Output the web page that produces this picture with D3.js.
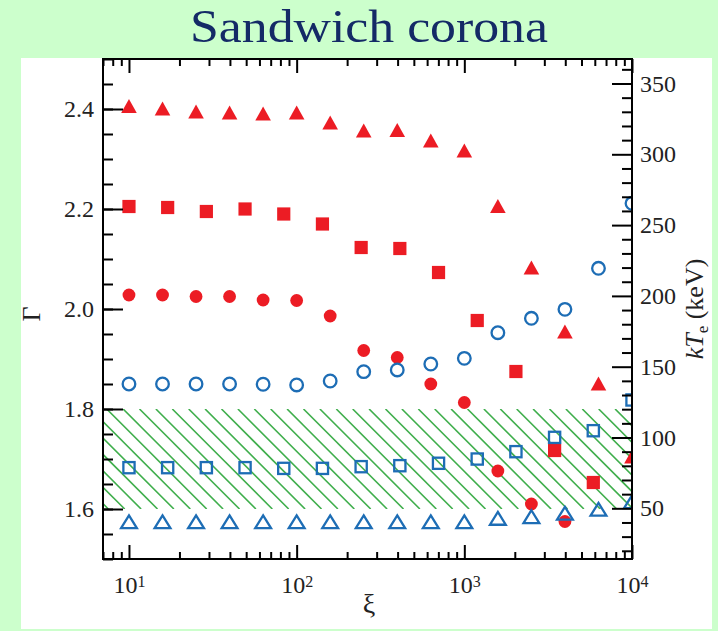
<!DOCTYPE html>
<html>
<head>
<meta charset="utf-8">
<script src="https://cdn.jsdelivr.net/npm/d3@7"></script>
<style>
  html, body { margin: 0; padding: 0; background: #ccffcc; }
  svg { display: block; }
  text { font-family: "Liberation Serif", "Times New Roman", serif; }
</style>
</head>
<body>
<svg id="chart" width="718" height="631"></svg>
<script>
// ---- data -------------------------------------------------------------
// ξ grid used by the triangle and circle runs
const xiTri = [10, 15.85, 25.12, 39.81, 63.10, 100, 158.5, 251.2, 398.1, 631.0,
               1000, 1585, 2512, 3981, 6310, 10000];
// ξ grid used by the square runs
const xiSq = [10, 17.01, 28.94, 49.24, 83.77, 142.5, 242.5, 412.5, 701.7,
              1194, 2031, 3455, 5878, 10000];

// photon index Γ (filled red markers, left axis)
const gammaTri  = [2.406, 2.401, 2.395, 2.393, 2.391, 2.393, 2.373, 2.357, 2.358,
                   2.337, 2.317, 2.206, 2.083, 1.955, 1.851, 1.705];
const gammaSq   = [2.205, 2.203, 2.195, 2.200, 2.190, 2.170, 2.123, 2.121, 2.073,
                   1.977, 1.875, 1.717, 1.653];
const gammaCirc = [2.028, 2.028, 2.025, 2.025, 2.018, 2.017, 1.986, 1.917, 1.903,
                   1.850, 1.813, 1.676, 1.610, 1.575];

// electron temperature kTe in keV (open blue markers, right axis)
const kteCirc = [137.8, 137.8, 137.8, 137.8, 137.6, 137.1, 139.9, 146.5, 147.7,
                 151.9, 155.9, 174.0, 184.2, 190.5, 219.5, 265.4];
const kteSq   = [78.7, 78.7, 78.7, 78.7, 78.2, 78.2, 79.4, 80.1, 81.8,
                 84.8, 90.0, 100.1, 104.8, 126.5];
const kteTri  = [40.5, 40.5, 40.5, 40.5, 40.5, 40.5, 40.5, 40.5, 40.5, 40.5,
                 40.5, 42.9, 44.1, 46.5, 49.3, 54.7];

// observed Γ band (hatched)
const gammaBand = [1.6, 1.8];

// axis ticks
const gammaMajor = [1.6, 1.8, 2.0, 2.2, 2.4];
const kteMajor = [50, 100, 150, 200, 250, 300, 350];
const xiMajor = [10, 100, 1000, 10000];
const xiExponents = ["1", "2", "3", "4"];

// ---- layout -----------------------------------------------------------
const plot = { left: 103, right: 632, top: 59, bottom: 559 };
const RED = "#ec1c24", BLUE = "#1d6db5", GREEN = "#3fae4c", INK = "#222";

const svg = d3.select("#chart");

// white panel behind the plot
svg.append("rect").attr("x", 21).attr("y", 58).attr("width", 691).attr("height", 571)
   .attr("fill", "#ffffff");

// title
svg.append("text")
   .attr("x", 369).attr("y", 42)
   .attr("text-anchor", "middle")
   .attr("textLength", 358).attr("lengthAdjust", "spacingAndGlyphs")
   .attr("font-size", 46).attr("fill", "#142a66")
   .text("Sandwich corona");

const x = d3.scaleLog().domain([7, 10000]).range([plot.left, plot.right]);
const yG = d3.scaleLinear().domain([1.5, 2.5]).range([plot.bottom, plot.top]);
const yT = d3.scaleLinear().domain([14.2, 367.3]).range([plot.bottom, plot.top]);

const defs = svg.append("defs");
defs.append("clipPath").attr("id", "plotClip").append("rect")
    .attr("x", plot.left).attr("y", plot.top)
    .attr("width", plot.right - plot.left).attr("height", plot.bottom - plot.top);
defs.append("clipPath").attr("id", "bandClip").append("rect")
    .attr("x", plot.left).attr("y", yG(gammaBand[1]))
    .attr("width", plot.right - plot.left).attr("height", yG(gammaBand[0]) - yG(gammaBand[1]));

// ---- hatched band -----------------------------------------------------
const bandTop = yG(gammaBand[1]), bandBot = yG(gammaBand[0]);
const bandH = bandBot - bandTop;
const hatchStep = 16.4;
const hatchStarts = d3.range(106.7 - hatchStep * 8, plot.right + hatchStep, hatchStep);
svg.append("g").attr("clip-path", "url(#bandClip)")
   .selectAll("line").data(hatchStarts).join("line")
   .attr("x1", d => d).attr("y1", bandTop)
   .attr("x2", d => d + bandH).attr("y2", bandBot)
   .attr("stroke", GREEN).attr("stroke-width", 1.6);

// ---- markers ----------------------------------------------------------
const marks = svg.append("g").attr("clip-path", "url(#plotClip)");

function tri(hw, hh) { return `M0,${-hh}L${hw},${hh}L${-hw},${hh}Z`; }

// filled red: Γ
marks.append("g").selectAll("path").data(gammaTri).join("path")
   .attr("transform", (d, i) => `translate(${x(xiTri[i])},${yG(d)})`)
   .attr("d", tri(7.8, 6.9)).attr("fill", RED);
marks.append("g").selectAll("rect").data(gammaSq).join("rect")
   .attr("x", (d, i) => x(xiSq[i]) - 6.6).attr("y", d => yG(d) - 6.6)
   .attr("width", 13.2).attr("height", 13.2).attr("fill", RED);
marks.append("g").selectAll("circle").data(gammaCirc).join("circle")
   .attr("cx", (d, i) => x(xiTri[i])).attr("cy", d => yG(d))
   .attr("r", 6.4).attr("fill", RED);

// open blue: kTe
marks.append("g").selectAll("circle").data(kteCirc).join("circle")
   .attr("cx", (d, i) => x(xiTri[i])).attr("cy", d => yT(d))
   .attr("r", 6.3).attr("fill", "none").attr("stroke", BLUE).attr("stroke-width", 2.3);
marks.append("g").selectAll("rect").data(kteSq).join("rect")
   .attr("x", (d, i) => x(xiSq[i]) - 5.6).attr("y", d => yT(d) - 5.6)
   .attr("width", 11.2).attr("height", 11.2)
   .attr("fill", "none").attr("stroke", BLUE).attr("stroke-width", 2.3);
marks.append("g").selectAll("path").data(kteTri).join("path")
   .attr("transform", (d, i) => `translate(${x(xiTri[i])},${yT(d)})`)
   .attr("d", tri(7.9, 6.4))
   .attr("fill", "none").attr("stroke", BLUE).attr("stroke-width", 2.3)
   .attr("stroke-linejoin", "miter");

// ---- axes -------------------------------------------------------------
function styleAxis(g) {
  g.select(".domain").remove();
  g.selectAll(".tick line").attr("stroke", "#000").attr("stroke-width", 2);
  g.selectAll("text").attr("font-family", "Liberation Serif, serif")
   .attr("font-size", 24).attr("fill", INK);
}

const gammaMinor = d3.range(1.5, 2.5001, 0.05).map(v => +v.toFixed(2));
const kteMinor = d3.range(20, 361, 10).filter(v => v % 50 !== 0);
const xiMinor = x.ticks().filter(v => !xiMajor.includes(v));

// left: Γ
svg.append("g").attr("transform", `translate(${plot.left},0)`)
   .call(d3.axisLeft(yG).tickValues(gammaMinor).tickSize(-10).tickFormat(""))
   .call(styleAxis);
svg.append("g").attr("transform", `translate(${plot.left},0)`)
   .call(d3.axisLeft(yG).tickValues(gammaMajor).tickSize(-20).tickPadding(9)
         .tickFormat(d3.format(".1f")))
   .call(styleAxis);

// right: kTe
svg.append("g").attr("transform", `translate(${plot.right},0)`)
   .call(d3.axisRight(yT).tickValues(kteMinor).tickSize(-10).tickFormat(""))
   .call(styleAxis);
svg.append("g").attr("transform", `translate(${plot.right},0)`)
   .call(d3.axisRight(yT).tickValues(kteMajor).tickSize(-20).tickPadding(8)
         .tickFormat(d3.format("d")))
   .call(styleAxis);

// bottom: ξ
svg.append("g").attr("transform", `translate(0,${plot.bottom})`)
   .call(d3.axisBottom(x).tickValues(xiMinor).tickSize(-7).tickFormat(""))
   .call(styleAxis);
const bottomMajor = svg.append("g").attr("transform", `translate(0,${plot.bottom})`)
   .call(d3.axisBottom(x).tickValues(xiMajor).tickSize(-14).tickPadding(17)
         .tickFormat(() => "10"))
   .call(styleAxis);
bottomMajor.selectAll(".tick text").each(function(d, i) {
  d3.select(this).append("tspan")
    .attr("dy", "-0.4em").attr("font-size", 16)
    .text(xiExponents[i]);
});

// top: mirrored ξ ticks
svg.append("g").attr("transform", `translate(0,${plot.top})`)
   .call(d3.axisTop(x).tickValues(xiMinor).tickSize(-7).tickFormat(""))
   .call(styleAxis);
svg.append("g").attr("transform", `translate(0,${plot.top})`)
   .call(d3.axisTop(x).tickValues(xiMajor).tickSize(-14).tickFormat(""))
   .call(styleAxis);

// frame
svg.append("rect")
   .attr("x", plot.left).attr("y", plot.top)
   .attr("width", plot.right - plot.left).attr("height", plot.bottom - plot.top)
   .attr("fill", "none").attr("stroke", "#000").attr("stroke-width", 2);

// ---- axis titles ------------------------------------------------------
svg.append("text")
   .attr("transform", "translate(40,314) rotate(-90)")
   .attr("text-anchor", "middle").attr("font-size", 26).attr("fill", INK)
   .text("Γ");

svg.append("text")
   .attr("x", 369).attr("y", 613)
   .attr("text-anchor", "middle").attr("font-size", 28).attr("fill", INK)
   .text("ξ");

const kt = svg.append("text")
   .attr("transform", "translate(703,309) rotate(-90)")
   .attr("text-anchor", "middle").attr("font-size", 26).attr("fill", INK);
kt.append("tspan").attr("font-style", "italic").text("kT");
kt.append("tspan").attr("font-size", 17).attr("dy", "0.3em").text("e");
kt.append("tspan").attr("dy", "-0.2em").text(" (keV)");
</script>
</body>
</html>
